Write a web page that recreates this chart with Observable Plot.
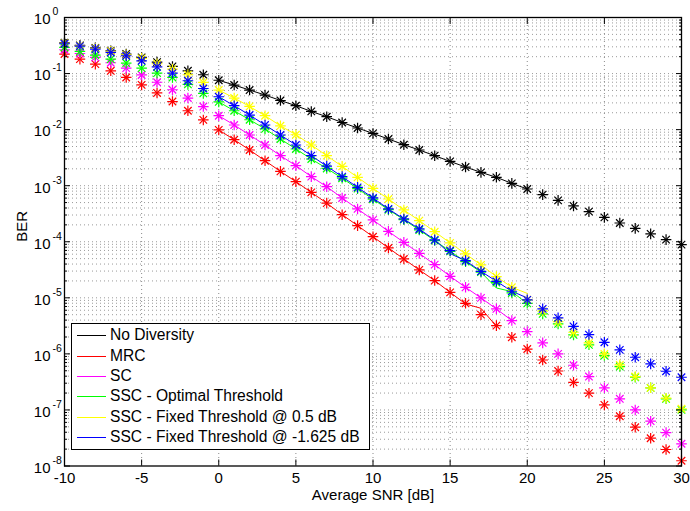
<!DOCTYPE html>
<html>
<head>
<meta charset="utf-8">
<script src="https://cdn.jsdelivr.net/npm/d3@7"></script>
<script src="https://cdn.jsdelivr.net/npm/@observablehq/plot@0.6"></script>
<style>
  html, body { margin: 0; padding: 0; background: #fff; }
  #wrap { position: relative; width: 690px; height: 511px; font-family: "Liberation Sans", Arial, Helvetica, sans-serif; }
  #legend { position: absolute; left: 71px; top: 323px; width: 299px; height: 127px; box-sizing: border-box;
            border: 1.3px solid #000; background: #fff; }
  .row { position: absolute; left: 0; height: 20.4px; line-height: 20.4px; font-size: 15.6px; color: #000; white-space: nowrap; }
  .row .swatch { position: absolute; left: 5px; top: 10px; width: 29px; height: 0; border-top: 1px solid; }
  .row .lbl { position: absolute; left: 38px; top: 0; }
</style>
</head>
<body>
<div id="wrap"><div id="chart"></div><div id="legend"></div></div>
<script>
// ---- data ----
const snr = [-10,-9,-8,-7,-6,-5,-4,-3,-2,-1,0,1,2,3,4,5,6,7,8,9,10,11,12,13,14,15,16,17,18,19,20,21,22,23,24,25,26,27,28,29,30];
const simSnr = [0,1,2,3,4,5,6,7,8,9,10,11,12,13,14,15,16,17,18,19,20];

const seriesNames = ["No Diversity", "MRC", "SC", "SSC - Optimal Threshold", "SSC - Fixed Threshold @ 0.5 dB", "SSC - Fixed Threshold @ -1.625 dB"];
const seriesColors = ["#000000", "#ff0000", "#ff00ff", "#00ff00", "#ffff00", "#0000ff"];

// marker (asterisk) values, SNR -10..30
const noDiv = [0.354,0.319,0.288,0.255,0.223,0.194,0.160,0.134,0.112,0.0952,0.0760,
  0.0624,0.0508,0.0414,0.0331,0.0267,0.0211,0.0170,0.0134,0.0107,0.00855,
  0.00680,0.00538,0.00433,0.00343,0.00271,0.00215,0.00173,0.00141,0.00110,8.73e-4,
  6.92e-4,5.47e-4,4.35e-4,3.44e-4,2.72e-4,2.16e-4,1.73e-4,1.38e-4,1.09e-4,8.87e-5];
const mrc = [0.223,0.181,0.147,0.112,0.0852,0.0627,0.0451,0.0317,0.0217,0.0149,0.00988,
  0.00661,0.00433,0.00279,0.00180,0.00118,7.60e-4,4.88e-4,3.04e-4,1.94e-4,1.23e-4,
  7.75e-5,4.93e-5,3.14e-5,2.03e-5,1.25e-5,7.98e-6,5.01e-6,3.19e-6,1.98e-6,1.22e-6,
  7.78e-7,4.95e-7,3.10e-7,1.99e-7,1.23e-7,7.73e-8,4.92e-8,3.13e-8,1.97e-8,1.24e-8];
const sc = [0.266,0.228,0.194,0.156,0.125,0.0944,0.0700,0.0514,0.0366,0.0258,0.0177,
  0.0121,0.00802,0.00532,0.00343,0.00228,0.00145,9.59e-4,6.04e-4,3.85e-4,2.45e-4,
  1.53e-4,9.75e-5,6.21e-5,3.91e-5,2.42e-5,1.54e-5,9.95e-6,6.34e-6,3.93e-6,2.50e-6,
  1.57e-6,1.00e-6,6.27e-7,3.94e-7,2.48e-7,1.58e-7,1.00e-7,6.30e-8,3.95e-8,2.49e-8];
const sscOpt = [0.292,0.248,0.214,0.181,0.154,0.125,0.102,0.0852,0.0640,0.0442,0.0312,
  0.0217,0.0150,0.0103,0.00680,0.00451,0.00299,0.00203,0.00136,8.85e-4,5.74e-4,
  3.73e-4,2.48e-4,1.62e-4,1.05e-4,6.75e-5,4.42e-5,2.87e-5,1.87e-5,1.22e-5,7.98e-6,
  5.16e-6,3.43e-6,2.18e-6,1.45e-6,9.33e-7,5.94e-7,3.83e-7,2.48e-7,1.58e-7,1.00e-7];
const sscFix05 = [0.347,0.313,0.282,0.250,0.216,0.187,0.150,0.120,0.0952,0.0694,0.0508,
  0.0366,0.0259,0.0177,0.0117,0.00811,0.00532,0.00343,0.00221,0.00141,8.95e-4,
  5.79e-4,3.69e-4,2.38e-4,1.51e-4,9.53e-5,6.07e-5,3.86e-5,2.39e-5,1.54e-5,9.29e-6,
  5.79e-6,3.77e-6,2.43e-6,1.57e-6,1.00e-6,6.37e-7,3.94e-7,2.48e-7,1.62e-7,1.05e-7];
const sscFixNeg = [0.340,0.309,0.273,0.238,0.208,0.169,0.132,0.102,0.0745,0.0542,0.0386,
  0.0267,0.0182,0.0121,0.00802,0.00532,0.00343,0.00223,0.00145,9.33e-4,6.04e-4,
  3.85e-4,2.55e-4,1.69e-4,1.08e-4,6.93e-5,4.60e-5,2.97e-5,1.97e-5,1.31e-5,9.18e-6,
  6.34e-6,4.38e-6,3.10e-6,2.21e-6,1.61e-6,1.18e-6,8.70e-7,6.64e-7,4.90e-7,3.83e-7];

// simulated curves (solid lines), SNR 0..20 (shorter where the curve stops)
const simNoDiv = [0.0760,0.0624,0.0508,0.0414,0.0331,0.0267,0.0211,0.0170,0.0134,0.0107,0.00855,
  0.00680,0.00538,0.00433,0.00343,0.00271,0.00215,0.00173,0.00141,0.00110,8.73e-4];
const simMrc = [0.00988,0.00661,0.00433,0.00279,0.00180,0.00118,7.60e-4,4.88e-4,3.04e-4,1.94e-4,1.23e-4,
  7.75e-5,4.93e-5,3.14e-5,2.03e-5,1.25e-5,7.78e-6,6.50e-6,3.10e-6];
const simSc = [0.0177,0.0121,0.00802,0.00532,0.00343,0.00228,0.00145,9.59e-4,6.04e-4,3.85e-4,2.45e-4,
  1.53e-4,9.75e-5,6.21e-5,3.91e-5,2.42e-5,1.54e-5,9.95e-6,6.34e-6,3.93e-6];
const simOpt = [0.0312,0.0217,0.0150,0.0103,0.00680,0.00451,0.00299,0.00203,0.00136,8.85e-4,5.74e-4,
  3.73e-4,2.48e-4,1.62e-4,1.05e-4,6.75e-5,4.42e-5,2.87e-5,1.50e-5,1.29e-5,7.88e-6];
const simFix05 = [0.0508,0.0366,0.0259,0.0177,0.0117,0.00811,0.00532,0.00343,0.00221,0.00141,8.95e-4,
  5.79e-4,3.69e-4,2.38e-4,1.51e-4,9.53e-5,6.07e-5,3.86e-5,2.39e-5,1.54e-5,1.20e-5];
const simFixNeg = [0.0386,0.0267,0.0182,0.0121,0.00802,0.00532,0.00343,0.00223,0.00145,9.33e-4,6.04e-4,
  3.85e-4,2.55e-4,1.69e-4,1.08e-4,6.14e-5,4.60e-5,2.97e-5,1.97e-5,1.31e-5,9.95e-6];

// ticks
const xTicks = [-10,-5,0,5,10,15,20,25,30];
const xGrid = [-5,0,5,10,15,20,25];
const yTicks = [1,1e-1,1e-2,1e-3,1e-4,1e-5,1e-6,1e-7,1e-8];
const minorSteps = [2,3,4,5,6,7,8,9];

// ---- build ----
const markerSets = [noDiv, mrc, sc, sscOpt, sscFix05, sscFixNeg];
const lineSets = [simNoDiv, simMrc, simSc, simOpt, simFix05, simFixNeg];
const yMinor = yTicks.slice(1).flatMap(d => minorSteps.map(k => k * d));
const yGridVals = yTicks.slice(1, -1).concat(yMinor);

const lineMarks = lineSets.map((vals, i) =>
  Plot.line(vals.map((v, j) => ({x: simSnr[j], y: v})), {x: "x", y: "y", stroke: seriesColors[i], strokeWidth: 1})
);
const dotMarks = markerSets.flatMap((vals, i) => {
  const pts = vals.map((v, j) => ({x: snr[j], y: v}));
  return [
    Plot.dot(pts, {x: "x", y: "y", symbol: "plus", r: 3.5, stroke: seriesColors[i], strokeWidth: 1.2}),
    Plot.dot(pts, {x: "x", y: "y", symbol: "times", r: 3.5, stroke: seriesColors[i], strokeWidth: 1.2})
  ];
});

const font = '"Liberation Sans", Arial, Helvetica, sans-serif';
const chart = Plot.plot({
  width: 690,
  height: 511,
  marginLeft: 64,
  marginRight: 9,
  marginTop: 17,
  marginBottom: 45.5,
  style: {fontFamily: font, fontSize: "15px", background: "#fff", color: "#000"},
  x: {domain: [-10, 30]},
  y: {type: "log", domain: [1e-8, 1]},
  marks: [
    Plot.gridX(xGrid, {stroke: "#8a8a8a", strokeOpacity: 1, strokeDasharray: "1,3", strokeWidth: 1}),
    Plot.gridY(yGridVals, {stroke: "#9a9a9a", strokeOpacity: 1, strokeDasharray: "1,3", strokeWidth: 1}),
    ...lineMarks,
    ...dotMarks,
    // x tick labels
    Plot.axisX(xTicks, {anchor: "bottom", tickSize: 0, tickPadding: 6, label: null, fontSize: 15, tickFormat: d => String(d)}),
    // inner ticks
    Plot.axisX(xTicks, {anchor: "bottom", tickSize: 6, dy: -6, tickFormat: () => "", label: null}),
    Plot.axisX(xTicks, {anchor: "top", tickSize: 6, dy: 6, tickFormat: () => "", label: null}),
    Plot.axisY(yTicks, {anchor: "left", tickSize: 6, dx: 6, tickFormat: () => "", label: null}),
    Plot.axisY(yTicks, {anchor: "right", tickSize: 6, dx: -6, tickFormat: () => "", label: null}),
    Plot.axisY(yMinor, {anchor: "left", tickSize: 3, dx: 3, tickFormat: () => "", label: null}),
    Plot.axisY(yMinor, {anchor: "right", tickSize: 3, dx: -3, tickFormat: () => "", label: null}),
    // y tick labels 10^n
    Plot.text(yTicks, {frameAnchor: "left", y: d => d, text: () => "10", textAnchor: "end", dx: -14, dy: 2, fontSize: 15}),
    Plot.text(yTicks, {frameAnchor: "left", y: d => d, text: d => String(Math.round(Math.log10(d))), textAnchor: "start", dx: -12, dy: -5.5, fontSize: 10.5}),
    // axis titles
    Plot.text(["Average SNR [dB]"], {frameAnchor: "bottom", lineAnchor: "middle", dy: 29, fontSize: 15}),
    Plot.text(["BER"], {frameAnchor: "left", lineAnchor: "middle", dx: -42, rotate: -90, fontSize: 15}),
    Plot.frame({stroke: "#000", strokeWidth: 1.3})
  ]
});
document.getElementById("chart").appendChild(chart);

// legend
const legend = document.getElementById("legend");
seriesNames.forEach((name, i) => {
  const row = document.createElement("div");
  row.className = "row";
  row.style.top = (1.2 + i * 20.4) + "px";
  const sw = document.createElement("span");
  sw.className = "swatch";
  sw.style.borderTopColor = seriesColors[i];
  const lbl = document.createElement("span");
  lbl.className = "lbl";
  lbl.textContent = name;
  row.appendChild(sw);
  row.appendChild(lbl);
  legend.appendChild(row);
});
</script>
</body>
</html>
